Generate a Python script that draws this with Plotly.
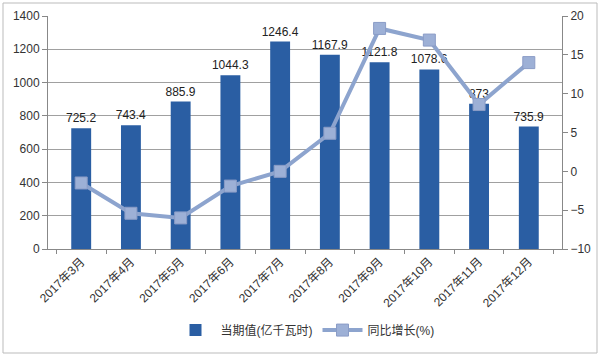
import plotly.graph_objects as go

categories = ["2017年3月", "2017年4月", "2017年5月", "2017年6月", "2017年7月",
              "2017年8月", "2017年9月", "2017年10月", "2017年11月", "2017年12月"]
values = [725.2, 743.4, 885.9, 1044.3, 1246.4, 1167.9, 1121.8, 1078.6, 873, 735.9]
value_labels = ["725.2", "743.4", "885.9", "1044.3", "1246.4", "1167.9", "1121.8", "1078.6", "873", "735.9"]
growth = [-1.5, -5.4, -6.0, -1.9, 0.0, 4.9, 18.4, 16.9, 8.6, 14.0]
left_ticks = [0, 200, 400, 600, 800, 1000, 1200, 1400]
right_ticks = [-10, -5, 0, 5, 10, 15, 20]

fig = go.Figure()
fig.add_trace(go.Bar(
    x=categories, y=values, name="当期值(亿千瓦时)",
    text=value_labels, textposition="outside", cliponaxis=False,
    constraintext="none",
    textfont=dict(size=12, color="#222"),
    marker=dict(color="#2A5EA3", line=dict(width=0)),
    yaxis="y",
))
fig.add_trace(go.Scatter(
    x=categories, y=growth, name="同比增长(%)", mode="lines+markers",
    line=dict(color="#8DA4CE", width=4),
    marker=dict(symbol="square", size=12, color="#9DB0D6",
                line=dict(color="#8A9CC6", width=1)),
    yaxis="y2",
))

font_family = "Liberation Sans, Noto Sans CJK SC, sans-serif"
fig.update_layout(
    width=600, height=356,
    margin=dict(l=48, r=38, t=16, b=107, autoexpand=False),
    paper_bgcolor="white", plot_bgcolor="white",
    font=dict(family=font_family, size=12, color="#333"),
    bargap=0.6,
    showlegend=True,
    legend=dict(orientation="h", x=0.5, xanchor="center", y=-0.348, yanchor="middle",
                font=dict(size=12, color="#333"), itemwidth=40),
    xaxis=dict(type="category", tickangle=-45, tickson="boundaries", ticks="outside",
               ticklen=4, tickcolor="#888", showline=True, linecolor="#888",
               tickfont=dict(size=12, color="#333"), showgrid=False, automargin=False),
    yaxis=dict(range=[0, 1400], tickvals=left_ticks, showgrid=True, gridcolor="#A0A0A0",
               showline=True, linecolor="#888", ticks="outside", ticklen=5, tickcolor="#888",
               tickfont=dict(size=12, color="#333"), zeroline=False, automargin=False),
    yaxis2=dict(range=[-10, 20], tickvals=right_ticks, overlaying="y", side="right",
                showgrid=False, showline=True, linecolor="#888", ticks="outside",
                ticklen=5, tickcolor="#888", tickfont=dict(size=12, color="#333"),
                zeroline=False, automargin=False),
)
fig.add_shape(type="rect", xref="paper", yref="paper",
              x0=-45 / 514, x1=(514 + 35) / 514, y0=-104 / 233, y1=(233 + 13) / 233,
              line=dict(color="#BBBBBB", width=1), layer="below")
fig.write_html("out.html", config={"displayModeBar": False},
               post_script="document.body.style.margin='0';")
